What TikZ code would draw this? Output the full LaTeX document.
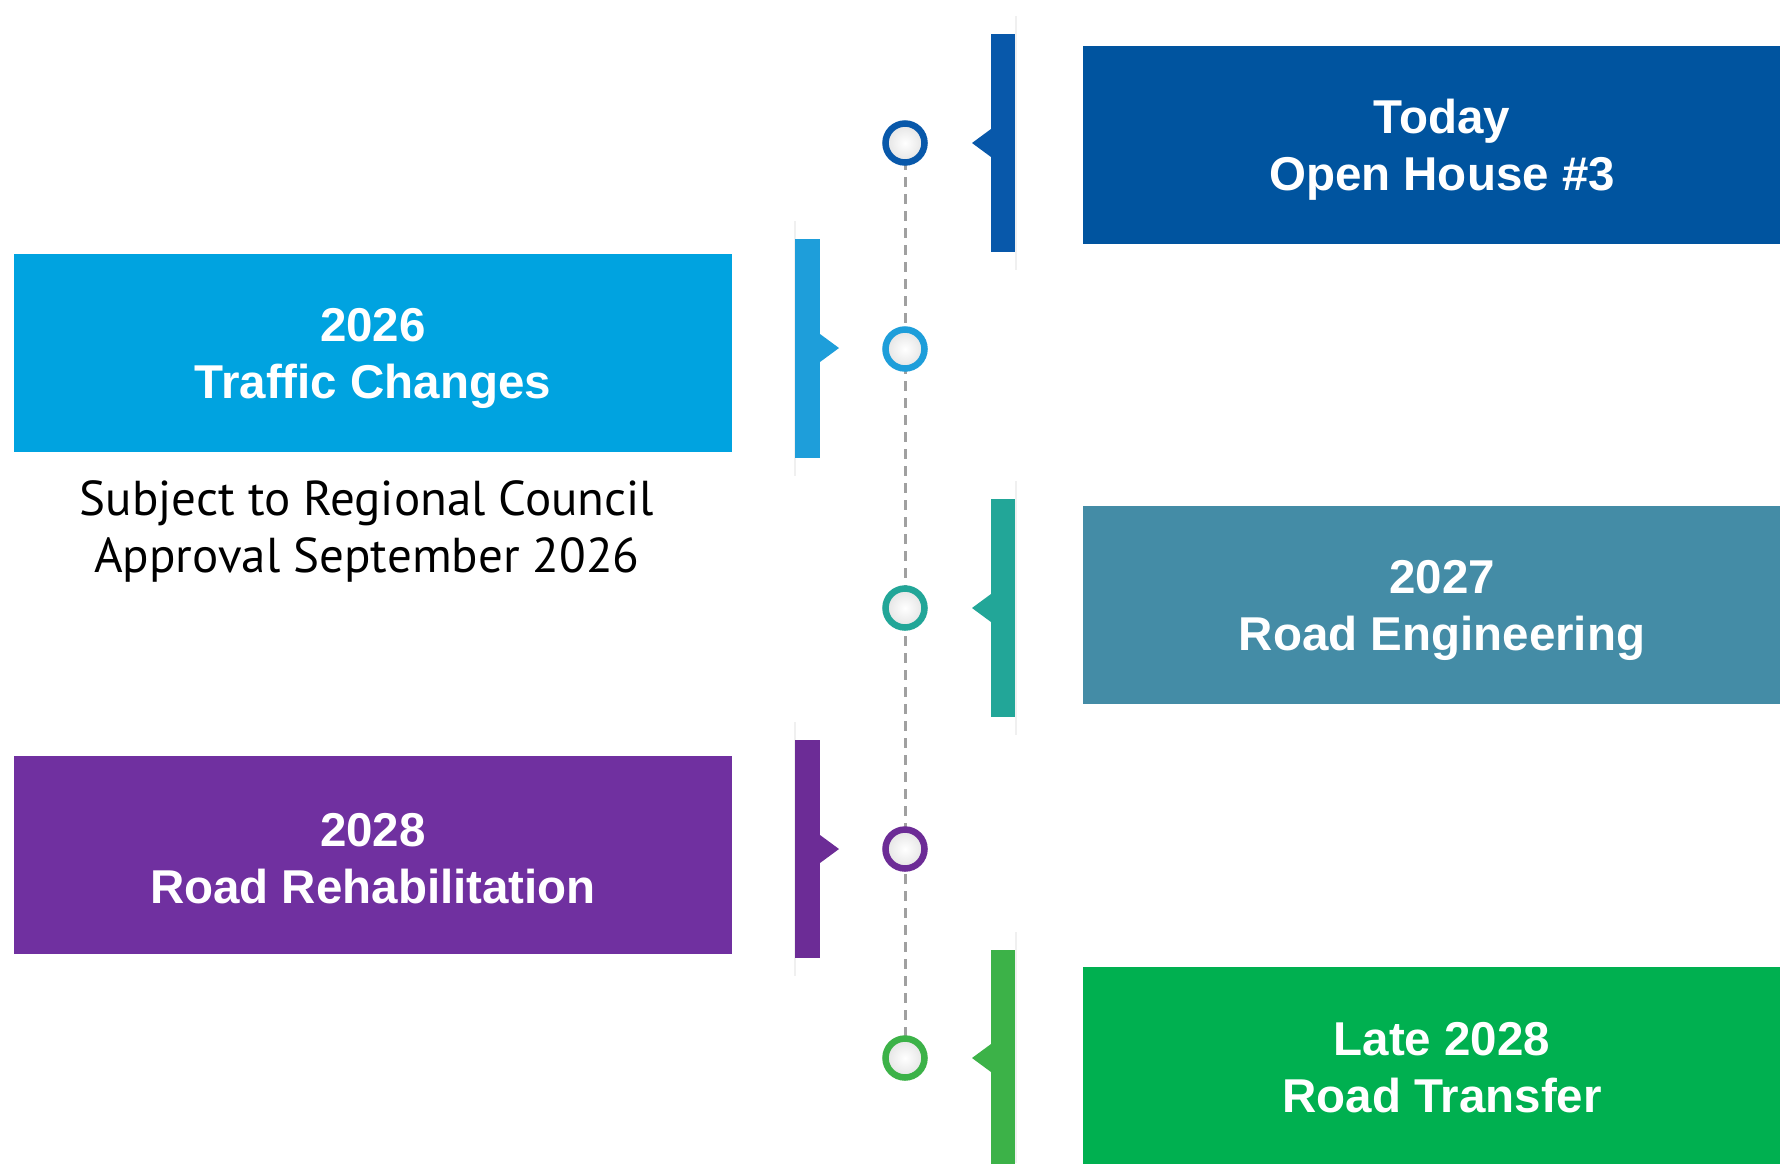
\documentclass[tikz,border=0pt]{standalone}
\usepackage{fontspec}
\setmainfont{Liberation Sans}
\newfontfamily\subfont{PT Sans}
\definecolor{boxA}{RGB}{0,84,159}
\definecolor{boxB}{RGB}{0,163,224}
\definecolor{boxC}{RGB}{68,140,166}
\definecolor{boxD}{RGB}{112,48,160}
\definecolor{boxE}{RGB}{0,176,80}
\definecolor{barA}{RGB}{8,88,170}
\definecolor{barB}{RGB}{30,158,218}
\definecolor{barC}{RGB}{34,166,152}
\definecolor{barD}{RGB}{108,44,150}
\definecolor{barE}{RGB}{60,178,72}
\definecolor{dashgray}{RGB}{160,160,160}
\begin{document}
\begin{tikzpicture}[x=1pt,y=-1pt,
  titlebox/.style={draw=none,inner sep=0pt,minimum width=718pt,minimum height=198pt},
  titletext/.style={inner sep=0pt,align=center,text=white,
    font=\bfseries\fontsize{47.5}{57}\selectfont},
  ringnode/.style={circle,draw=#1,line width=6.5pt,minimum size=39pt,inner sep=0pt,
    inner color=white,outer color=gray!22},
  faint/.style={draw=gray!12,line width=1.5pt},
  subtext/.style={align=center,inner sep=0pt,font=\subfont\fontsize{49}{57}\selectfont}
]
\useasboundingbox (0,0) rectangle (1780,1163);
\fill[white] (0,0) rectangle (1780,1163);

% title boxes
\node[titlebox,fill=boxA] (b1) at (1442,144.5) {};
\node[titlebox,fill=boxB] (b2) at (373,352.5) {};
\node[titlebox,fill=boxC] (b3) at (1442,604.5) {};
\node[titlebox,fill=boxD] (b4) at (373,855) {};
\node[titlebox,fill=boxE] (b5) at (1442,1066) {};
\node[titletext] (t1) at ([yshift=-5pt]b1.center) {Today\\Open House \#3};
\node[titletext] (t2) at ([yshift=-6pt]b2.center) {2026\\Traffic Changes};
\node[titletext] (t3) at ([yshift=-6pt]b3.center) {2027\\Road Engineering};
\node[titletext] (t4) at ([yshift=-4pt]b4.center) {2028\\Road Rehabilitation};
\node[titletext] (t5) at ([yshift=-2pt]b5.center) {Late 2028\\Road Transfer};

\node[subtext] (note) at (367,531) {Subject to Regional Council\\Approval September 2026};

% faint guide lines beside bars
\draw[faint] (1016,16) -- (1016,270);
\draw[faint] (1016,481) -- (1016,735);
\draw[faint] (1016,932) -- (1016,1163);
\draw[faint] (795,221) -- (795,476);
\draw[faint] (795,722) -- (795,976);

% bars with notches
\fill[barA] (991,34) rectangle (1015,252);
\fill[barA] (991,129) -- (972,143) -- (991,157) -- cycle;
\fill[barC] (991,499) rectangle (1015,717);
\fill[barC] (991,594) -- (972,608) -- (991,622) -- cycle;
\fill[barE] (991,950) rectangle (1015,1175);
\fill[barE] (991,1044) -- (972,1058) -- (991,1072) -- cycle;
\fill[barB] (795,239) rectangle (820,458);
\fill[barB] (820,334) -- (839,348) -- (820,362) -- cycle;
\fill[barD] (795,740) rectangle (820,958);
\fill[barD] (820,835) -- (839,849) -- (820,863) -- cycle;

% timeline
\coordinate (p1) at (905,143);
\coordinate (p5) at (905,1058);
\draw[dashgray,line width=3pt,dash pattern=on 10pt off 7pt] (p1) -- (p5);

\node[ringnode=barA] (c1) at (905,143) {};
\node[ringnode=barB] (c2) at (905,349) {};
\node[ringnode=barC] (c3) at (905,608) {};
\node[ringnode=barD] (c4) at (905,849) {};
\node[ringnode=barE] (c5) at (905,1058) {};
\end{tikzpicture}
\end{document}
